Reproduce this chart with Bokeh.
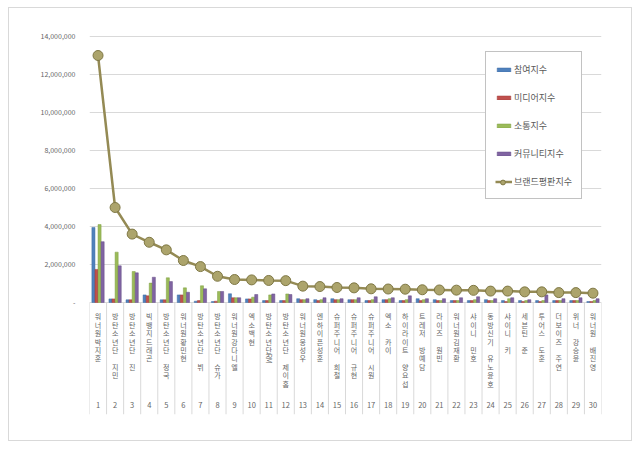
import math
from bokeh.plotting import figure
from bokeh.models import Range1d, FixedTicker, Legend, LegendItem, ColumnDataSource, NumeralTickFormatter
from bokeh.core.properties import value
from bokeh.transform import dodge
from bokeh.embed import file_html
from bokeh.resources import INLINE

names = ["워너원박지훈", "방탄소년단 지민", "방탄소년단 진", "빅뱅지드래곤", "방탄소년단 정국",
         "워너원황민현", "방탄소년단 뷔", "방탄소년단 슈가", "워너원강다니엘", "엑소백현",
         "방탄소년단RM", "방탄소년단 제이홉", "워너원옹성우", "엔하이픈성훈", "슈퍼주니어 희철",
         "슈퍼주니어 규현", "슈퍼주니어 시원", "엑소 카이", "하이라이트 양요섭", "트레저 방예담",
         "라이즈 원빈", "워너원김재환", "샤이니 민호", "동방신기 유노윤호", "샤이니 키",
         "세븐틴 준", "투어스 도훈", "더보이즈 주연", "위너 강승윤", "워너원 배진영"]
ranks = list(range(1, 31))

participation = [3950000, 190000, 140000, 400000, 140000, 400000, 70000, 50000, 460000, 190000,
                 100000, 100000, 200000, 150000, 200000, 150000, 100000, 150000, 100000, 200000,
                 150000, 100000, 100000, 150000, 100000, 100000, 100000, 100000, 100000, 50000]
media = [1740000, 190000, 140000, 350000, 140000, 400000, 100000, 70000, 250000, 190000,
         100000, 100000, 150000, 100000, 150000, 150000, 100000, 150000, 100000, 100000,
         100000, 100000, 100000, 100000, 50000, 50000, 50000, 100000, 100000, 50000]
communication = [4100000, 2650000, 1630000, 1020000, 1300000, 770000, 880000, 580000, 250000, 280000,
                 400000, 450000, 150000, 150000, 150000, 150000, 150000, 200000, 150000, 150000,
                 100000, 100000, 150000, 100000, 200000, 100000, 100000, 100000, 100000, 100000]
community = [3200000, 1930000, 1560000, 1330000, 1100000, 540000, 720000, 580000, 250000, 420000,
             450000, 420000, 200000, 250000, 200000, 250000, 300000, 250000, 350000, 200000,
             200000, 250000, 300000, 200000, 250000, 150000, 400000, 200000, 250000, 200000]
brand = [13000000, 5000000, 3600000, 3170000, 2770000, 2210000, 1890000, 1380000, 1210000, 1190000,
         1160000, 1150000, 860000, 840000, 790000, 770000, 720000, 710000, 700000, 670000,
         660000, 650000, 640000, 600000, 600000, 560000, 560000, 520000, 520000, 490000]
y_ticks = [0, 2000000, 4000000, 6000000, 8000000, 10000000, 12000000, 14000000]
series_names = ["참여지수", "미디어지수", "소통지수", "커뮤니티지수", "브랜드평판지수"]

Y_START, Y_END = -5895000, 14105000
LABEL_TOP = -470000      # top of the vertical name labels (data units)
SLOT = 442000            # one stacked character (data units, ~8.4px)
RANK_Y = -5370000
TEXT_COLOR = "#666666"

# split each name into stacked characters (Latin runs are kept together and rotated)
kx, ky, kt = [], [], []
lx, ly, lt = [], [], []
for r, name in zip(ranks, names):
    k = 0.0
    buf = ""
    for ch in name + "\0":
        if ch.isascii() and ch.isalpha():
            buf += ch
            continue
        if buf:
            lx.append(r); ly.append(LABEL_TOP - k * SLOT); lt.append(buf)
            k += 0.75 * len(buf)
            buf = ""
        if ch == "\0":
            break
        if ch != " ":
            kx.append(r); ky.append(LABEL_TOP - k * SLOT); kt.append(ch)
        k += 1

src = ColumnDataSource(dict(
    x=ranks, name=names, rank=[str(r) for r in ranks],
    a=participation, b=media, c=communication, d=community, brand=brand,
))

FONT = "Noto Sans CJK KR"
p = figure(width=624, height=434, output_backend="svg", toolbar_location=None,
           x_range=Range1d(0.5, 30.5), y_range=Range1d(Y_START, Y_END),
           x_axis_location=None,
           min_border_left=80, min_border_right=32, min_border_top=26, min_border_bottom=28)
p.styles = {"border": "1px solid #d9d9d9", "margin-left": "8px", "margin-top": "7px"}
p.outline_line_color = None
p.background_fill_color = "white"
p.border_fill_color = "white"

p.yaxis.ticker = FixedTicker(ticks=y_ticks)
p.yaxis.formatter = NumeralTickFormatter(format="0,0")
p.yaxis.major_label_overrides = {0: "-"}
p.yaxis.axis_line_color = None
p.yaxis.major_tick_line_color = None
p.yaxis.minor_tick_line_color = None
p.yaxis.major_label_text_font = FONT
p.yaxis.major_label_text_font_size = "7px"
p.yaxis.major_label_text_color = TEXT_COLOR
p.yaxis.major_label_standoff = 8
p.ygrid.grid_line_color = "#d9d9d9"
p.xgrid.grid_line_color = None

# category separators
bounds = [r - 0.5 for r in ranks] + [ranks[-1] + 0.5]
p.segment(x0=bounds, y0=0, x1=bounds, y1=Y_START, line_color="#d9d9d9", line_width=1)

w = 0.18
rb = p.vbar(x=dodge("x", -0.27, range=p.x_range), top="a", width=w, source=src,
            fill_color="#4f81bd", line_color="#3c6aa3", line_width=0.5)
rr = p.vbar(x=dodge("x", -0.09, range=p.x_range), top="b", width=w, source=src,
            fill_color="#c0504d", line_color="#a13c39", line_width=0.5)
rg = p.vbar(x=dodge("x", 0.09, range=p.x_range), top="c", width=w, source=src,
            fill_color="#9bbb59", line_color="#7f9e42", line_width=0.5)
rp = p.vbar(x=dodge("x", 0.27, range=p.x_range), top="d", width=w, source=src,
            fill_color="#8064a2", line_color="#654d86", line_width=0.5)
rl = p.line(x="x", y="brand", source=src, line_color="#948a54", line_width=2.5)
rs = p.scatter(x="x", y="brand", source=src, size=10, fill_color="#aca46c",
               line_color="#7f7845", line_width=1)

p.text(x=kx, y=ky, text=kt, text_font=value(FONT),
       text_font_size="7px", text_align="center", text_baseline="top",
       text_color=TEXT_COLOR)
p.text(x=lx, y=ly, text=lt, text_font=value(FONT), angle=-math.pi / 2,
       text_font_size="7px", text_align="left", text_baseline="middle",
       text_color=TEXT_COLOR)
p.text(x="x", y=RANK_Y, text="rank", source=src, text_font=value(FONT),
       text_font_size="7.5px", text_align="center", text_baseline="middle",
       text_color=TEXT_COLOR)


def style_legend(lg):
    lg.label_text_font = FONT
    lg.label_text_font_size = "9px"
    lg.label_text_color = "#595959"
    lg.glyph_width = 17
    lg.margin = 0
    lg.label_standoff = 2


legend = Legend(items=[
    LegendItem(label=series_names[0], renderers=[rb]),
    LegendItem(label=series_names[1], renderers=[rr]),
    LegendItem(label=series_names[2], renderers=[rg]),
    LegendItem(label=series_names[3], renderers=[rp]),
    LegendItem(label=series_names[4], renderers=[rl]),
], location=(396, 215))
style_legend(legend)
legend.border_line_color = "#868686"
legend.border_line_width = 1
legend.background_fill_color = "white"
legend.background_fill_alpha = 1
legend.glyph_height = 5
legend.label_height = 16
legend.spacing = 12
legend.padding = 9
p.add_layout(legend)

# marker overlay for the line entry of the legend
legend2 = Legend(items=[LegendItem(label=" ", renderers=[rs])], location=(405, 226))
style_legend(legend2)
legend2.border_line_color = None
legend2.background_fill_alpha = 0
legend2.glyph_height = 12
legend2.label_height = 12
legend2.padding = 0
legend2.spacing = 0
p.add_layout(legend2)

open("out.html", "w").write(file_html(p, INLINE))
